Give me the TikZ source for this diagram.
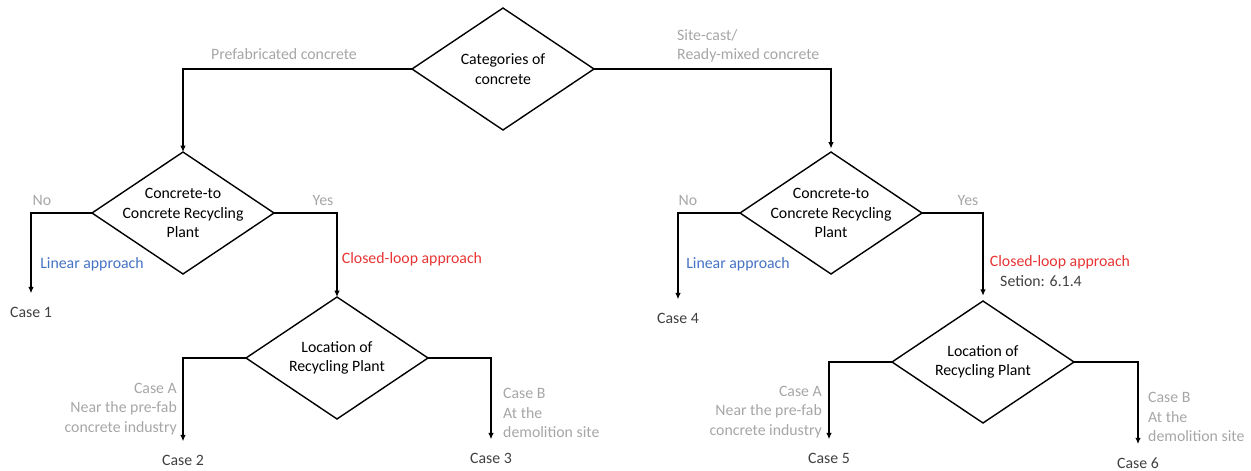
\documentclass[tikz,border=0pt]{standalone}
\usepackage{fontspec}
\setmainfont{Carlito}
\usetikzlibrary{arrows.meta,shapes.geometric}
\definecolor{lblgray}{RGB}{166,166,166}
\definecolor{txtdark}{RGB}{64,64,64}
\definecolor{linblue}{RGB}{68,114,196}
\definecolor{loopred}{RGB}{232,52,52}

\begin{document}
\begin{tikzpicture}[x=0.02cm,y=-0.02cm,font=\fontsize{9}{11}\selectfont,
  decision/.style={draw,diamond,line width=0.8pt,minimum width=3.64cm,minimum height=2.44cm,inner sep=0pt,outer sep=0pt},
  dtext/.style={align=center,text=black},
  flow/.style={line width=0.8pt,-{Latex[length=3.6pt,width=3.2pt]}},
  case/.style={text=txtdark,inner xsep=2pt,inner ysep=7.5pt},
  branch/.style={text=lblgray}]
  \useasboundingbox (0,0) rectangle (1251,470);

  \node[decision,label={[dtext]center:{Categories of\\concrete}}] (cat) at (503,69) {};
  \node[decision,label={[dtext]center:{Concrete-to\\Concrete Recycling\\Plant}}] (ccr1) at (183,213) {};
  \node[decision,label={[dtext]center:{Concrete-to\\Concrete Recycling\\Plant}}] (ccr2) at (831,213) {};
  \node[decision,label={[dtext]center:{Location of\\Recycling Plant}}] (loc1) at (337,358) {};
  \node[decision,label={[dtext]center:{Location of\\Recycling Plant}}] (loc2) at (983,362) {};

  \node[case] (case1) at (31,312) {Case 1};
  \node[case] (case2) at (183,460) {Case 2};
  \node[case] (case3) at (491,458) {Case 3};
  \node[case] (case4) at (678,318) {Case 4};
  \node[case] (case5) at (829,458) {Case 5};
  \node[case] (case6) at (1138,463) {Case 6};

  \draw[flow] (cat.west) -| (ccr1.north);
  \draw[flow,shorten >=2pt] (cat.east) -| (ccr2.north);
  \draw[flow] (ccr1.west) -| (case1.north);
  \draw[flow] (ccr1.east) -| (loc1.north);
  \draw[flow] (ccr2.west) -| (case4.north);
  \draw[flow,shorten >=3pt] (ccr2.east) -| (loc2.north);
  \draw[flow] (loc1.west) -| (case2.north);
  \draw[flow] (loc1.east) -| (case3.north);
  \draw[flow] (loc2.west) -| (case5.north);
  \draw[flow] (loc2.east) -| (case6.north);

  \node[branch] (prefab) at (284,54) {Prefabricated concrete};
  \node[branch,align=left,anchor=west] (sitecast) at (671,46) {Site-cast/\\Ready-mixed concrete};
  \node[branch] (no1) at (42,200) {No};
  \node[branch] (yes1) at (323,200) {Yes};
  \node[branch] (no2) at (688,200) {No};
  \node[branch] (yes2) at (968,200) {Yes};
  \node[text=linblue] (lin1) at (92,264) {Linear approach};
  \node[text=linblue] (lin2) at (738,264) {Linear approach};
  \node[text=loopred] (loop1) at (412,259) {Closed-loop approach};
  \node[text=loopred] (loop2) at (1060,262) {Closed-loop approach};
  \node[text=txtdark] (sec2) at (1041,281) {Setion: 6.1.4};
  \node[branch,align=right,anchor=east] (siteA1) at (183,409) {Case A\\Near the pre-fab\\concrete industry};
  \node[branch,align=left,anchor=west] (siteB1) at (497,413) {Case B\\At the\\demolition site};
  \node[branch,align=right,anchor=east] (siteA2) at (828,412) {Case A\\Near the pre-fab\\concrete industry};
  \node[branch,align=left,anchor=west] (siteB2) at (1142,417) {Case B\\At the\\demolition site};
\end{tikzpicture}
\end{document}
